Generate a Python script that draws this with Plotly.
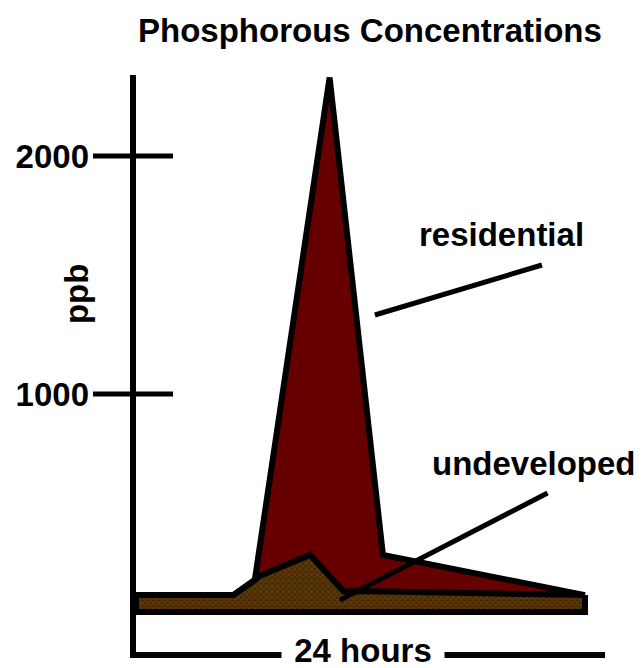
import plotly.graph_objects as go

# ---- data (hours, ppb) ----
base_hours = [0, 0, 24, 24]
base_ppb = [155, 84, 84, 155]

undev_hours = [0, 5.2, 6.7, 9.3, 11.1, 12.0, 24]
undev_ppb = [155, 155, 239, 324, 170, 172, 155]

resid_hours = [0, 5.2, 6.35, 10.35, 13.2, 24]
resid_ppb = [155, 155, 218, 2330, 324, 155]

resid_pointer_hours = [21.7, 12.77]
resid_pointer_ppb = [1542, 1332]
undev_pointer_hours = [22.0, 10.9]
undev_pointer_ppb = [584, 134]

ytick_vals = [1000, 2000]
ytick_text = ["1000", "2000"]

FONT = "Liberation Sans, Arial, Helvetica, sans-serif"
FS = 33
X_RANGE = [-0.588, 25.07]
Y_RANGE = [-96.6, 2403.4]

fig = go.Figure()

fig.add_trace(go.Scatter(x=base_hours, y=base_ppb, mode="lines",
                         line=dict(color="black", width=6), hoverinfo="skip"))
fig.add_trace(go.Scatter(x=undev_hours, y=undev_ppb, mode="lines", fill="tonexty",
                         fillcolor="#3e3a0c",
                         fillpattern=dict(shape="x", bgcolor="#5e1a04", fgcolor="#2a7e0c",
                                          size=4, solidity=0.5),
                         line=dict(color="black", width=6), hoverinfo="skip"))
fig.add_trace(go.Scatter(x=resid_hours, y=resid_ppb, mode="lines", fill="tonexty",
                         fillcolor="#660000",
                         line=dict(color="black", width=6), hoverinfo="skip"))
fig.add_trace(go.Scatter(x=resid_pointer_hours, y=resid_pointer_ppb, mode="lines",
                         line=dict(color="black", width=5), hoverinfo="skip"))
fig.add_trace(go.Scatter(x=undev_pointer_hours, y=undev_pointer_ppb, mode="lines",
                         line=dict(color="black", width=5), hoverinfo="skip"))

# axis lines (hand-drawn style), in paper coordinates
fig.add_shape(type="line", xref="paper", yref="paper", x0=0.01667, x1=0.01667,
              y0=-0.005, y1=0.9748, line=dict(color="black", width=6))
fig.add_shape(type="line", xref="paper", yref="paper", x0=0.0104, x1=1.0,
              y0=0, y1=0, line=dict(color="black", width=6))
# tick marks crossing the y axis
for v in ytick_vals:
    fig.add_shape(type="line", xref="paper", yref="y", x0=-0.0667, x1=0.1, y0=v, y1=v,
                  line=dict(color="black", width=5))

bold = dict(family=FONT, size=FS, color="black", weight="bold")

fig.add_annotation(text="<b>Phosphorous Concentrations</b>", xref="paper", yref="paper",
                   x=0.5104, y=1.0504, xanchor="center", yanchor="middle",
                   showarrow=False, font=bold)
fig.add_annotation(text="<b>residential</b>", xref="x", yref="y", x=19.55, y=1672,
                   xanchor="center", yanchor="middle", showarrow=False, font=bold)
fig.add_annotation(text="<b>undeveloped</b>", xref="x", yref="y", x=21.3, y=706,
                   xanchor="center", yanchor="middle", showarrow=False, font=bold)
fig.add_annotation(text="<b>ppb</b>", xref="paper", yref="paper", x=-0.102, y=0.6067,
                   xanchor="center", yanchor="middle", textangle=-90,
                   showarrow=False, font=bold)
fig.add_annotation(text="<b>24 hours</b>", xref="paper", yref="paper", x=0.4958, y=0.0084,
                   xanchor="center", yanchor="middle", showarrow=False, font=bold,
                   bgcolor="white", width=160, height=34)

# the page adds an 8px body margin, so the figure is sized to fit the 644x668 window
fig.update_layout(
    width=636, height=660,
    margin=dict(l=117, r=39, t=52, b=13),
    paper_bgcolor="white", plot_bgcolor="white",
    showlegend=False,
    xaxis=dict(range=X_RANGE, showgrid=False, zeroline=False, showticklabels=False,
               ticks="", showline=False, automargin=False),
    yaxis=dict(range=Y_RANGE, showgrid=False, zeroline=False,
               tickvals=ytick_vals, ticktext=[f"<b>{t}</b>" for t in ytick_text],
               ticks="", tickfont=bold, ticklabelstandoff=35,
               showline=False, automargin=False),
)

fig.write_html("out.html")
